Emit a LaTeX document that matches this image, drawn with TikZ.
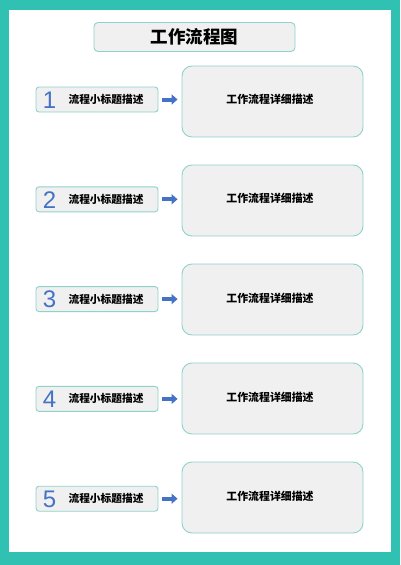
\documentclass[tikz,border=0pt]{standalone}
\usepackage{fontspec}
\setmainfont{Liberation Sans}
\newfontfamily\cjk{Noto Sans CJK SC}
\usetikzlibrary{arrows.meta,positioning}

\definecolor{frame}{HTML}{30C1B2}
\definecolor{rim}{HTML}{8ED3CB}
\definecolor{boxgray}{HTML}{F0F0F0}
\definecolor{numblue}{HTML}{4472C4}

\tikzset{
  titlebox/.style={draw=rim,fill=boxgray,rounded corners=4pt,line width=0.9pt,
    minimum width=201pt,minimum height=29pt,font=\cjk\bfseries\fontsize{17.5}{18}\selectfont},
  subbox/.style={draw=rim,fill=boxgray,rounded corners=3pt,line width=0.9pt,
    minimum width=122pt,minimum height=25pt},
  detbox/.style={draw=rim,fill=boxgray,rounded corners=10pt,line width=0.9pt,
    minimum width=181pt,minimum height=71pt},
  numtext/.style={text=numblue,font=\fontsize{24}{24}\selectfont},
  subtext/.style={font=\cjk\bfseries\fontsize{10.7}{11}\selectfont},
  dettext/.style={font=\cjk\bfseries\fontsize{10.9}{11}\selectfont},
  flowarrow/.style={numblue,line width=4pt,-{Triangle[length=6pt,width=10pt]},
    shorten <=4pt,shorten >=4pt}
}

\begin{document}
\begin{tikzpicture}[x=1pt,y=-1pt]
  \useasboundingbox (0,0) rectangle (400,565);
  \fill[frame] (0,0) rectangle (400,565);
  \fill[white] (9,10) rectangle (391,552);

  \node[titlebox] (title) at (194.5,37) {工作流程图};

  \foreach \i in {1,...,5}{
    \node[subbox]  (sub\i) at (97,{99.5+(\i-1)*99.8}) {};
    \node[numtext] (num\i) at (49.5,{100+(\i-1)*99.8}) {\i};
    \node[subtext] (lab\i) at (106,{99.5+(\i-1)*99.8}) {流程小标题描述};
    \node[detbox]  (det\i) at (272.5,{101.5+(\i-1)*99}) {};
    \node[dettext] (txt\i) at (270,{99.5+(\i-1)*99.3}) {工作流程详细描述};
    \draw[flowarrow] (sub\i.east) -- (sub\i.east -| det\i.west);
  }
\end{tikzpicture}
\end{document}
